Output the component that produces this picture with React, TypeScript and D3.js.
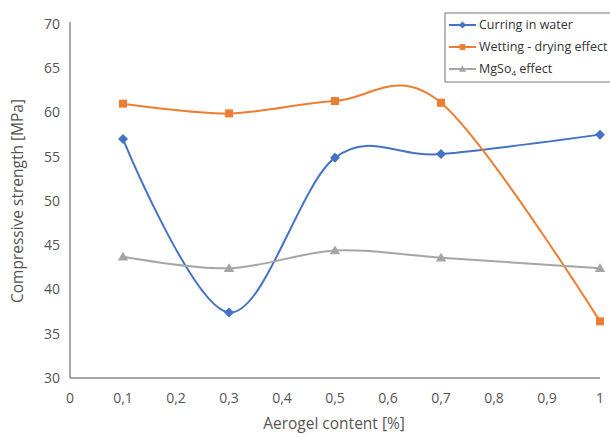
import React from "react";
import * as d3 from "d3";

const xValues = [0.1, 0.3, 0.5, 0.7, 1.0];
const curringInWater = [57.0, 37.4, 54.9, 55.3, 57.5];
const wettingDrying = [61.0, 59.9, 61.3, 61.1, 36.4];
const mgso4Effect = [43.7, 42.4, 44.4, 43.6, 42.4];
const xTicks = [0, 0.1, 0.2, 0.3, 0.4, 0.5, 0.6, 0.7, 0.8, 0.9, 1];
const yTicks = [30, 35, 40, 45, 50, 55, 60, 65, 70];

const W = 610;
const H = 437;

export default function App() {
  const x = d3.scaleLinear().domain([0, 1]).range([70, 600]);
  const y = d3.scaleLinear().domain([30, 70]).range([378, 24]);
  const line = d3
    .line<number>()
    .x((_, i) => x(xValues[i]))
    .y((d) => y(d))
    .curve(d3.curveCardinal.tension(0));

  const fmt = (v: number) => String(v).replace(".", ",");
  const axisColor = "#8a8a8a";
  const textColor = "#555";
  const font = "'Open Sans', sans-serif";

  const series = [
    { name: "Curring in water", data: curringInWater, color: "#4472C4", marker: "diamond" },
    { name: "Wetting - drying effect", data: wettingDrying, color: "#ED7D31", marker: "square" },
    { name: "MgSo4 effect", data: mgso4Effect, color: "#A5A5A5", marker: "triangle" },
  ];

  const markerPath = (type: string, r: number) => {
    if (type === "diamond") return `M0,${-r}L${r},0L0,${r}L${-r},0Z`;
    if (type === "square") return `M${-r * 0.8},${-r * 0.8}h${r * 1.6}v${r * 1.6}h${-r * 1.6}Z`;
    return `M0,${-r}L${r * 1.05},${r * 0.75}L${-r * 1.05},${r * 0.75}Z`;
  };

  return (
    <svg width={W} height={H} style={{ position: "absolute", left: 0, top: 0, background: "#fff" }}>
      {/* axes */}
      <line x1={x(0)} x2={x(0)} y1={y(70) - 2} y2={y(30)} stroke={axisColor} strokeWidth={1.5} />
      <line x1={x(0)} x2={x(1)} y1={y(30)} y2={y(30)} stroke={axisColor} strokeWidth={1.5} />
      {yTicks.map((t) => (
        <text key={t} x={60} y={y(t)} dy="0.35em" textAnchor="end" fontSize={14} fill={textColor} fontFamily={font}>
          {t}
        </text>
      ))}
      {xTicks.map((t) => (
        <text key={t} x={x(t)} y={398} dy="0.35em" textAnchor="middle" fontSize={14} fill={textColor} fontFamily={font}>
          {fmt(t)}
        </text>
      ))}
      <text x={334} y={424} dy="0.35em" textAnchor="middle" fontSize={15.5} fill={textColor} fontFamily={font}>
        Aerogel content [%]
      </text>
      <text
        transform={`translate(18, ${y(50)}) rotate(-90)`}
        textAnchor="middle"
        dy="0.35em"
        fontSize={15.5}
        fill={textColor}
        fontFamily={font}
      >
        Compressive strength [MPa]
      </text>

      {/* series */}
      {series.map((s) => (
        <g key={s.name}>
          <path d={line(s.data) as string} fill="none" stroke={s.color} strokeWidth={2} />
          {s.data.map((v, i) => (
            <path
              key={i}
              d={markerPath(s.marker, 5)}
              transform={`translate(${x(xValues[i])},${y(v)})`}
              fill={s.color}
            />
          ))}
        </g>
      ))}

      {/* legend */}
      <rect x={445} y={13} width={175} height={69} fill="#fff" stroke="#777" strokeWidth={1} />
      {series.map((s, i) => {
        const ly = 25 + i * 22;
        return (
          <g key={s.name}>
            <line x1={449} x2={476} y1={ly} y2={ly} stroke={s.color} strokeWidth={2} />
            <path d={markerPath(s.marker, 3.6)} transform={`translate(462.5,${ly})`} fill={s.color} />
            <text x={479} y={ly} dy="0.35em" fontSize={12.5} fill="#333" fontFamily={font}>
              {s.marker === "triangle" ? (
                <>
                  MgSo<tspan fontSize={8} dy="3">4</tspan>
                  <tspan dy="-3"> effect</tspan>
                </>
              ) : (
                s.name
              )}
            </text>
          </g>
        );
      })}
    </svg>
  );
}
